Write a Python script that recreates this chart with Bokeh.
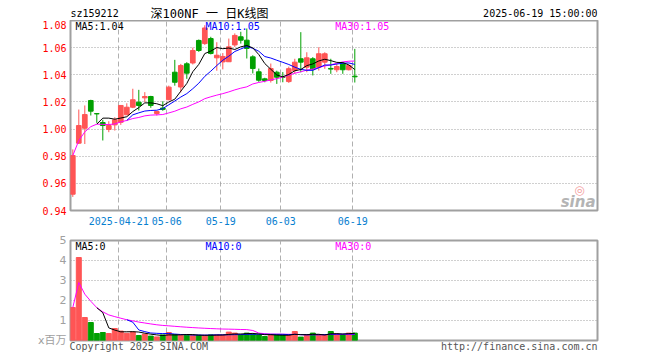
import pandas as pd
from bokeh.plotting import figure
from bokeh.layouts import column
from bokeh.models import Range1d, FixedTicker, Label, ColumnDataSource
from bokeh.embed import file_html
from bokeh.resources import INLINE

# ---------------- data ----------------
dates = ["2025-04-09", "2025-04-10", "2025-04-11", "2025-04-14", "2025-04-15", "2025-04-16",
         "2025-04-17", "2025-04-18", "2025-04-21", "2025-04-22", "2025-04-23", "2025-04-24",
         "2025-04-25", "2025-04-28", "2025-04-29", "2025-04-30", "2025-05-06", "2025-05-07",
         "2025-05-08", "2025-05-09", "2025-05-12", "2025-05-13", "2025-05-14", "2025-05-15",
         "2025-05-16", "2025-05-19", "2025-05-20", "2025-05-21", "2025-05-22", "2025-05-23",
         "2025-05-26", "2025-05-27", "2025-05-28", "2025-05-29", "2025-05-30", "2025-06-03",
         "2025-06-04", "2025-06-05", "2025-06-06", "2025-06-09", "2025-06-10", "2025-06-11",
         "2025-06-12", "2025-06-13", "2025-06-16", "2025-06-17", "2025-06-18", "2025-06-19"]

open_ = [0.952, 0.9896, 1.0006, 1.021, 1.0114, 1.0048, 0.9997, 1.0031, 1.005, 1.0105,
         1.0161, 1.0198, 1.023, 1.024, 1.0115, 1.0155, 1.0216, 1.0419, 1.031, 1.0481,
         1.0487, 1.0653, 1.063, 1.0667, 1.0525, 1.0495, 1.0496, 1.062, 1.068, 1.0655,
         1.0532, 1.0422, 1.037, 1.0358, 1.0419, 1.0385, 1.035, 1.0432, 1.0518, 1.0456,
         1.0518, 1.0456, 1.0493, 1.0447, 1.0437, 1.048, 1.0437, 1.039]
close = [0.9805, 1.0026, 1.0107, 1.0132, 1.0112, 1.0026, 1.0026, 1.0068, 1.0174, 1.0161,
         1.0216, 1.0174, 1.024, 1.0174, 1.0129, 1.0145, 1.0309, 1.0345, 1.0468, 1.0412,
         1.0579, 1.0579, 1.0745, 1.0557, 1.0544, 1.0535, 1.0606, 1.069, 1.0655, 1.0594,
         1.0446, 1.036, 1.0358, 1.0446, 1.0382, 1.0382, 1.0445, 1.0493, 1.0493, 1.0525,
         1.0444, 1.0555, 1.0555, 1.0442, 1.0461, 1.0437, 1.0468, 1.0385]
high = [0.985, 1.0144, 1.0174, 1.0216, 1.0118, 1.0068, 1.0058, 1.0087, 1.0174, 1.019,
        1.0297, 1.0289, 1.0272, 1.0245, 1.0132, 1.0205, 1.032, 1.051, 1.048, 1.0493,
        1.060, 1.066, 1.0765, 1.068, 1.064, 1.056, 1.0667, 1.0705, 1.0717, 1.0741,
        1.0544, 1.0446, 1.0378, 1.0483, 1.043, 1.042, 1.046, 1.0518, 1.0714, 1.0566,
        1.053, 1.0603, 1.0566, 1.0518, 1.048, 1.0493, 1.0476, 1.0591]
low = [0.950, 0.989, 0.989, 1.010, 1.0046, 0.9916, 0.9977, 0.9989, 1.0031, 1.0105,
       1.0154, 1.0137, 1.0198, 1.0157, 1.010, 1.0135, 1.0213, 1.032, 1.027, 1.037,
       1.0476, 1.0569, 1.062, 1.055, 1.043, 1.044, 1.0496, 1.0605, 1.063, 1.052,
       1.041, 1.0348, 1.0345, 1.0343, 1.0333, 1.0345, 1.034, 1.0407, 1.0418, 1.0419,
       1.0395, 1.0431, 1.0444, 1.0407, 1.0419, 1.0407, 1.0432, 1.0343]
volume = [1.65, 4.15, 1.15, 0.9, 0.35, 0.4, 0.35, 0.6, 0.47, 0.36,
          0.43, 0.25, 0.32, 0.22, 0.18, 0.28, 0.4, 0.3, 0.26, 0.26,
          0.26, 0.26, 0.26, 0.28, 0.28, 0.28, 0.42, 0.37, 0.28, 0.37,
          0.33, 0.28, 0.2, 0.28, 0.28, 0.28, 0.28, 0.45, 0.17, 0.28,
          0.37, 0.28, 0.28, 0.45, 0.33, 0.28, 0.37, 0.37]

tick_dates = ["2025-04-21", "2025-05-06", "2025-05-19", "2025-06-03", "2025-06-19"]
tick_labels = ["2025-04-21", "05-06", "05-19", "06-03", "06-19"]
price_ticks = [0.94, 0.96, 0.98, 1.00, 1.02, 1.04, 1.06, 1.08]
vol_ticks = [0, 1, 2, 3, 4, 5]
vol_tick_labels = ["x百万", "1", "2", "3", "4", "5"]

code_text = "sz159212"
title_text = "深100NF 一 日K线图"
time_text = "2025-06-19 15:00:00"
ma_price_texts = ["MA5:1.04", "MA10:1.05", "MA30:1.05"]
ma_vol_texts = ["MA5:0", "MA10:0", "MA30:0"]
copyright_text = "Copyright 2025 SINA.COM"
url_text = "http://finance.sina.com.cn"

# ---------------- styling ----------------
RED = "#ff5555"
GREEN = "#00a000"
MA_COLORS = ["#000000", "#0000ff", "#ff00ff"]
MONO = "DejaVu Sans Mono"
W = 660
LEFT = 70
FRAME_W = 527
PX = 6.0          # pixels per trading day

idx = list(range(len(dates)))
colors = [RED if c >= o else GREEN for o, c in zip(open_, close)]
s_close = pd.Series(close)
s_vol = pd.Series(volume)
ma_p = [s_close.rolling(5).mean(), s_close.rolling(10).mean(), s_close.rolling(30, min_periods=1).mean()]
ma_v = [s_vol.rolling(5).mean(), s_vol.rolling(10).mean(), s_vol.rolling(30, min_periods=1).mean()]

src = ColumnDataSource(dict(
    x=idx, open=open_, close=close, high=high, low=low, vol=volume, color=colors,
    top=[max(o, c) for o, c in zip(open_, close)],
    bottom=[min(o, c) for o, c in zip(open_, close)],
    ma5=ma_p[0], ma10=ma_p[1], ma30=ma_p[2],
    vma5=ma_v[0], vma10=ma_v[1], vma30=ma_v[2],
))

x_start = -2.3 / PX
x_range = Range1d(x_start, x_start + FRAME_W / PX)
grid_x = [dates.index(d) - 1.0 / 3 for d in tick_dates]
x_ticker = FixedTicker(ticks=grid_x)


def label(p, x, y, text, color="#000000", align="left", size="10px", font=MONO, style="normal"):
    p.add_layout(Label(x=x, y=y, x_units="screen", y_units="screen", text=text,
                       text_color=color, text_align=align, text_baseline="middle",
                       text_font_size=size, text_font=font, text_font_style=style))


def base_fig(height, top, bottom, y_range):
    p = figure(width=W, height=height, x_range=x_range, y_range=y_range,
               output_backend="svg", toolbar_location=None, title=None,
               min_border_left=LEFT, min_border_right=W - LEFT - FRAME_W, min_border_top=top,
               min_border_bottom=bottom)
    p.background_fill_color = "white"
    p.border_fill_color = "white"
    p.outline_line_color = "#a0a0a0"
    p.outline_line_width = 2
    p.xgrid.ticker = x_ticker
    p.xgrid.grid_line_color = "#b0b0b0"
    p.xgrid.grid_line_dash = "5 3"
    p.ygrid.grid_line_color = "#a0a0a0"
    p.ygrid.grid_line_dash = "1 2"
    for ax in [p.xaxis[0], p.yaxis[0]]:
        ax.axis_line_color = None
        ax.major_tick_line_color = None
        ax.minor_tick_line_color = None
        ax.major_tick_out = 0
        ax.major_tick_in = 0
    return p


# ---------------- header (frame aligned with the panels below) ----------------
head = figure(width=W, height=20, x_range=Range1d(0, 1), y_range=Range1d(0, 1),
              output_backend="svg", toolbar_location=None, title=None,
              x_axis_location=None, y_axis_location=None,
              min_border_left=LEFT, min_border_right=W - LEFT - FRAME_W,
              min_border_top=0, min_border_bottom=0)
head.outline_line_color = None
head.grid.visible = False
head.background_fill_color = "white"
head.border_fill_color = "white"
label(head, 0, 7, code_text)
label(head, 139, 7, title_text, align="center", size="12px", font="DejaVu Sans Mono, Noto Sans CJK SC")
label(head, FRAME_W, 7, time_text, align="right")

# ---------------- price panel ----------------
p1 = base_fig(210, 0, 20, Range1d(0.94, 1.08))
p1.ygrid.ticker = FixedTicker(ticks=price_ticks[1:-1])
p1.yaxis.ticker = FixedTicker(ticks=price_ticks)
p1.yaxis.major_label_overrides = {t: f"{t:.2f}" for t in price_ticks}
p1.yaxis.major_label_text_color = "#ff0000"
p1.yaxis.major_label_text_font = MONO
p1.yaxis.major_label_text_font_size = "10px"
p1.yaxis.major_label_standoff = 4
p1.xaxis.ticker = x_ticker
p1.xaxis.major_label_overrides = {g: t for g, t in zip(grid_x, tick_labels)}
p1.xaxis.major_label_text_color = "#0780d0"
p1.xaxis.major_label_text_font = MONO
p1.xaxis.major_label_text_font_size = "10px"
p1.xaxis.major_label_standoff = 6

p1.segment(x0="x", y0="low", x1="x", y1="high", color="color", line_width=1, source=src)
p1.vbar(x="x", width=0.78, top="top", bottom="bottom", fill_color="color",
        line_color="color", line_width=1, source=src)
for col, c in zip(["ma30", "ma10", "ma5"], [MA_COLORS[2], MA_COLORS[1], MA_COLORS[0]]):
    p1.line(x="x", y=col, color=c, line_width=1, source=src)

for t, x, c in zip(ma_price_texts, [5, 135, 264.7], MA_COLORS):
    label(p1, x, 184, t, color=c)
label(p1, 525, 9, "sina", color="#b4b4b4", align="right", size="15px", font="DejaVu Sans", style="bold italic")
label(p1, 509, 21, "◎", color="#f4a0a0", align="center", size="12px", font="DejaVu Sans")

# ---------------- volume panel (footer texts carried by its bottom axis) ----------------
p2 = base_fig(130, 10, 20, Range1d(0, 5))
p2.ygrid.ticker = FixedTicker(ticks=[1, 2, 3, 4])
p2.yaxis.ticker = FixedTicker(ticks=vol_ticks)
p2.yaxis.major_label_overrides = {t: s for t, s in zip(vol_ticks, vol_tick_labels)}
p2.yaxis.major_label_text_color = "#a0a0a0"
p2.yaxis.major_label_text_font = "DejaVu Sans, Noto Sans CJK SC"
p2.yaxis.major_label_text_font_size = "11px"
p2.yaxis.major_label_standoff = 4

char_w = 6.02
foot_x = [x_start + (len(copyright_text) * char_w / 2 - 1) / PX,
          x_start + (FRAME_W - len(url_text) * char_w / 2) / PX]
p2.xaxis.ticker = FixedTicker(ticks=foot_x)
p2.xaxis.major_label_overrides = {foot_x[0]: copyright_text, foot_x[1]: url_text}
p2.xaxis.major_label_text_color = "#555555"
p2.xaxis.major_label_text_font = MONO
p2.xaxis.major_label_text_font_size = "10px"
p2.xaxis.major_label_standoff = 0

p2.vbar(x="x", width=0.83, top="vol", bottom=0, fill_color="color", line_color="color",
        line_width=1, source=src)
for col, c in zip(["vma30", "vma10", "vma5"], [MA_COLORS[2], MA_COLORS[1], MA_COLORS[0]]):
    p2.line(x="x", y=col, color=c, line_width=1, source=src)

for t, x, c in zip(ma_vol_texts, [5, 135, 264.7], MA_COLORS):
    label(p2, x, 94, t, color=c)

layout = column(head, p1, p2, spacing=0)
open("out.html", "w").write(file_html(layout, INLINE))
